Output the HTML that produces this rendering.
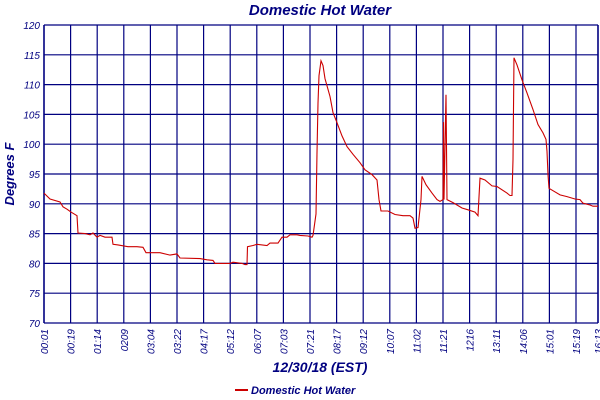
<!DOCTYPE html>
<html><head><meta charset="utf-8"><style>
html,body{margin:0;padding:0;background:#fff;}
svg{display:block;font-family:"Liberation Sans","DejaVu Sans",sans-serif;}
</style></head><body>
<svg id="chart" width="600" height="400" viewBox="0 0 600 400">
<text x="320" y="15" text-anchor="middle" font-size="15" font-weight="bold" font-style="italic" fill="#000080">Domestic Hot Water</text>
<text transform="translate(14,174) rotate(-90)" text-anchor="middle" font-size="13" font-weight="bold" font-style="italic" fill="#000080">Degrees F</text>
<text x="320" y="372" text-anchor="middle" font-size="14" font-weight="bold" font-style="italic" fill="#000080">12/30/18 (EST)</text>
<g>
<line x1="235" y1="390" x2="248" y2="390" stroke="#cc0000" stroke-width="2"/>
<text x="251" y="394" font-size="11" font-weight="bold" font-style="italic" fill="#000080">Domestic Hot Water</text>
</g>
<g id="grid"></g><g id="series"></g><g id="ticks"></g>
</svg>
<script>
const yTicks=[70,75,80,85,90,95,100,105,110,115,120];
const xLabels=["00:01","00:19","01:14","0209","03:04","03:22","04:17","05:12","06:07","07:03","07:21","08:17","09:12","10:07","11:02","11:21","1216","13:11","14:06","15:01","15:19","16:13"];
// sample index (0..554) and temperature (degF)
const sx=[
0,6,16,19,23,27,33,34,41,46,
49,53,56,61,68,69,74,84,93,99,
102,116,126,133,136,156,163,169,171,186,
189,198,201,203,203.5,209,213,223,226,234,
238,243,246,253,256,264,268,269,272,273,
274,275,277,279,281,286,289,293,298,303,
309,316,321,328,333,335,337,344,351,359,
366,369,371,374,377,378,382,388,393,396,
399,399.5,400,402,403,409,418,424,431,434,
436,441,448,453,463,466,468,469,470,473,
478,483,489,494,499,502,503,504,505,509,
516,523,531,536,539,546,549,554];
const sv=[
91.8,90.8,90.3,89.5,89.1,88.6,88.0,85.1,85.0,84.8,
85.1,84.4,84.7,84.4,84.4,83.2,83.1,82.8,82.8,82.7,
81.8,81.8,81.4,81.6,80.9,80.8,80.6,80.5,80.0,80.0,
80.2,80.0,79.8,79.8,82.8,83.0,83.2,83.0,83.4,83.4,
84.4,84.4,84.8,84.8,84.7,84.6,84.4,84.7,88.3,98.6,
106.9,111.5,114.0,113.2,111.0,108.0,105.3,103.6,101.4,99.6,
98.3,96.9,95.7,94.9,94.0,90.7,88.8,88.8,88.2,88.0,
88.0,87.6,85.9,86.0,90.7,94.6,93.2,91.8,90.7,90.4,
90.7,103.7,90.7,108.3,90.7,90.2,89.3,89.0,88.6,88.0,
94.3,94.0,93.0,92.9,91.8,91.4,91.4,97.4,114.5,113.3,
110.8,108.6,105.8,103.3,101.9,100.8,98.8,94.9,92.6,92.2,
91.5,91.2,90.8,90.7,90.1,89.8,89.6,89.6];
const L=44,R=598,T=25,B=323,N=554;
const NS="http://www.w3.org/2000/svg";
function xs(i){return L+(i/N)*(R-L);}
function ys(v){return B-(v-70)/50*(B-T);}
function xl(k){return k===xLabels.length-1?R:L+k*26.6;}
const grid=document.getElementById('grid'),ticks=document.getElementById('ticks'),series=document.getElementById('series');
function mk(t,a){const e=document.createElementNS(NS,t);for(const k in a)e.setAttribute(k,a[k]);return e;}
yTicks.forEach(v=>{
 const ln=mk('line',{x1:L,x2:R,y1:ys(v),y2:ys(v),stroke:'#000080','stroke-width':1.2});
 
 
 grid.appendChild(ln);
 const tx=mk('text',{x:L-4,y:ys(v)+4,'text-anchor':'end','font-size':10,'font-style':'italic',fill:'#000080'});
 
 
 tx.textContent=v;ticks.appendChild(tx);
});
xLabels.forEach((s,k)=>{
 const x=xl(k);
 const ln=mk('line',{x1:x,x2:x,y1:T,y2:B,stroke:'#000080','stroke-width':k===0||k===xLabels.length-1?1.6:1.2});
 
 
 grid.appendChild(ln);
 const tx=mk('text',{transform:`translate(${x+4},329) rotate(-90)`,'text-anchor':'end','font-size':10,'font-style':'italic',fill:'#000080'});
 
 
 tx.textContent=s;ticks.appendChild(tx);
});
const pts=sx.map((i,k)=>xs(i).toFixed(1)+','+ys(sv[k]).toFixed(1)).join(' ');
const pl=mk('polyline',{points:pts,fill:'none',stroke:'#cc0000','stroke-width':1.1});


series.appendChild(pl);
</script>
</body></html>
